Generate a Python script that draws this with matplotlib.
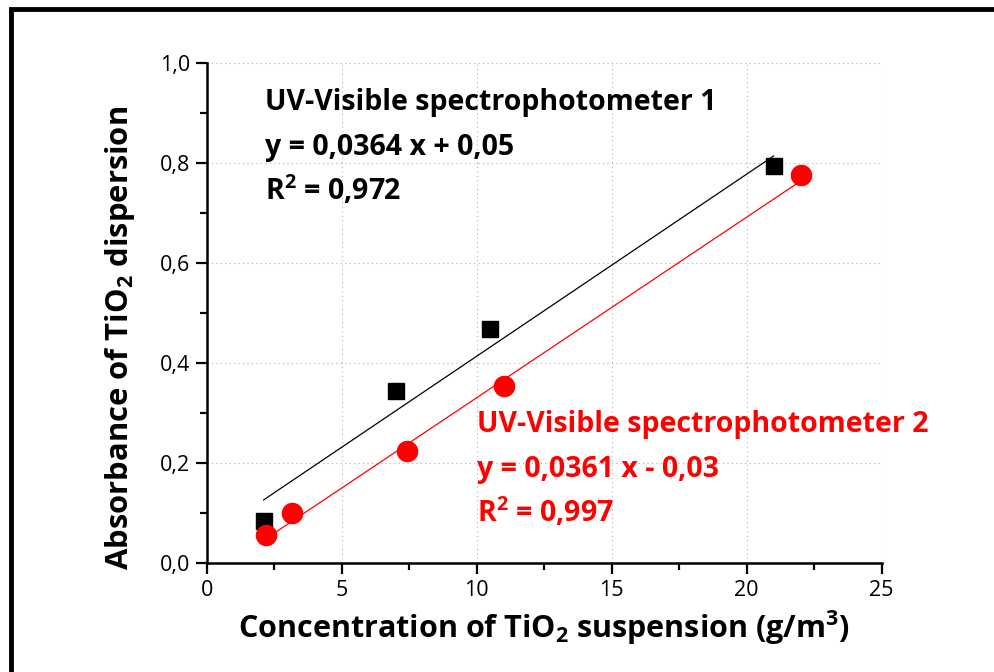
import numpy as np
import matplotlib
matplotlib.use("Agg")
import matplotlib.pyplot as plt
from matplotlib.ticker import MultipleLocator, FuncFormatter
from matplotlib.patches import Rectangle

# ---- data ----
conc_1 = [2.1, 7.0, 10.5, 21.0]
abs_1 = [0.085, 0.345, 0.468, 0.795]
conc_2 = [2.2, 3.15, 7.4, 11.0, 22.0]
abs_2 = [0.057, 0.101, 0.224, 0.355, 0.777]

# linear fits as reported
slope_1, icpt_1, r2_1 = 0.0364, 0.05, 0.972
slope_2, icpt_2, r2_2 = 0.0361, -0.03, 0.997


def comma(v):
    return f"{v}".replace(".", ",")


plt.rcParams["font.family"] = ["Open Sans", "DejaVu Sans"]
plt.rcParams["mathtext.fontset"] = "custom"
plt.rcParams["mathtext.rm"] = "Open Sans"
plt.rcParams["mathtext.bf"] = "Open Sans:bold"

fig = plt.figure(figsize=(9.95, 6.72), dpi=100)
ax = fig.add_axes([0.208, 0.162, 0.678, 0.744])

# outer frame (open on right and bottom)
fig.patches.append(Rectangle((0.011, -0.05), 1.2, 1.037, transform=fig.transFigure,
                             fill=False, edgecolor="black", linewidth=3.5))

# fit lines
fx1 = np.array([conc_1[0], conc_1[-1]])
fx2 = np.array([conc_2[0], conc_2[-1]])
ax.plot(fx1, slope_1 * fx1 + icpt_1, color="black", lw=0.9, zorder=3)
ax.plot(fx2, slope_2 * fx2 + icpt_2, color="red", lw=0.9, zorder=3)

# measured points
ax.plot(conc_1, abs_1, "s", color="black", ms=12, zorder=4)
ax.plot(conc_2, abs_2, "o", color="red", ms=14.5, zorder=4)

ax.set_xlim(0, 25)
ax.set_ylim(0, 1.0)
ax.xaxis.set_major_locator(MultipleLocator(5))
ax.xaxis.set_minor_locator(MultipleLocator(2.5))
ax.yaxis.set_major_locator(MultipleLocator(0.2))
ax.yaxis.set_minor_locator(MultipleLocator(0.1))
ax.yaxis.set_major_formatter(FuncFormatter(lambda v, p: f"{v:.1f}".replace(".", ",")))
ax.xaxis.set_major_formatter(FuncFormatter(lambda v, p: f"{v:.0f}"))

for s in ["top", "right"]:
    ax.spines[s].set_visible(False)
for s in ["left", "bottom"]:
    ax.spines[s].set_linewidth(1.8)
ax.tick_params(which="major", direction="out", length=8, width=1.6, labelsize=15.5, pad=4)
ax.tick_params(which="minor", direction="out", length=5, width=1.6)

ax.grid(True, which="major", linestyle=(0, (1, 3)), color="#b0b0b0", linewidth=0.8)
ax.set_axisbelow(True)

ax.set_xlabel(r"Concentration of TiO$_\mathbf{2}$ suspension (g/m$^\mathbf{3}$)",
              fontsize=22, fontweight="bold", labelpad=6)
ax.set_ylabel(r"Absorbance of TiO$_\mathbf{2}$ dispersion",
              fontsize=22.3, fontweight="bold")
ax.yaxis.set_label_coords(-0.104, 0.45)

# equation annotations
tk = dict(fontsize=20.5, fontweight="bold")
ax.text(2.15, 0.906, "UV-Visible spectrophotometer 1", color="black", **tk)
ax.text(2.15, 0.816, f"y = {comma(slope_1)} x + {comma(icpt_1)}", color="black", **tk)
ax.text(2.15, 0.726, r"R$^\mathbf{2}$ = " + comma(r2_1), color="black", **tk)

ax.text(10.0, 0.262, "UV-Visible spectrophotometer 2", color="red", **tk)
ax.text(10.0, 0.172, f"y = {comma(slope_2)} x - {comma(abs(icpt_2))}", color="red", **tk)
ax.text(10.0, 0.082, r"R$^\mathbf{2}$ = " + comma(r2_2), color="red", **tk)

fig.savefig("out.png", dpi=100)
